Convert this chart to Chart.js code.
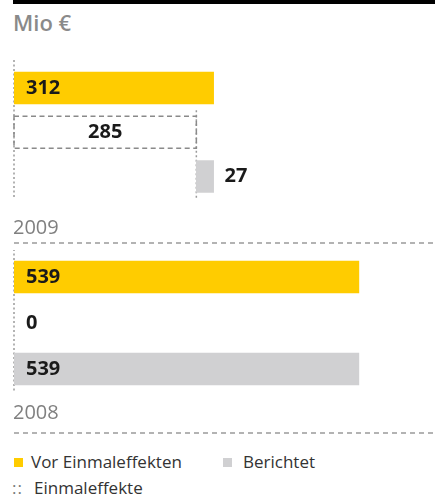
<!DOCTYPE html>
<html>
<head>
<meta charset="utf-8">
<script src="https://cdn.jsdelivr.net/npm/chart.js@4"></script>
<style>
  html, body { margin: 0; padding: 0; background: #fff; }
  #wrap { position: relative; width: 435px; height: 498px; overflow: hidden; font-family: "Open Sans", "Noto Sans", sans-serif; }
  #topbar { position: absolute; left: 13px; top: 0; width: 422px; height: 4px; background: #000; }
  #unit { position: absolute; left: 13px; top: 7px; font-size: 22px; font-weight: 600; color: #8a8a8a; line-height: 30px; }
  canvas { position: absolute; left: 0; }
  .leg { position: absolute; font-size: 17px; color: #333; line-height: 22px; white-space: nowrap; }
  .sw { position: absolute; width: 9px; height: 9px; }
</style>
</head>
<body>
<div id="wrap">
  <div id="topbar"></div>
  <div id="unit"></div>
  <canvas id="c0" width="435" height="200" style="top:50px"></canvas>
  <canvas id="c1" width="435" height="200" style="top:250px"></canvas>
  <div class="sw" style="left:14px;top:458px;background:#FFCC00"></div>
  <div class="leg" id="leg0" style="left:31px;top:451px"></div>
  <div class="sw" style="left:223px;top:458px;background:#D0D0D2"></div>
  <div class="leg" id="leg2" style="left:243px;top:451px"></div>
  <div class="leg" style="left:12px;top:477px;color:#777;letter-spacing:1px">::</div>
  <div class="leg" id="leg1" style="left:34px;top:477px"></div>
</div>
<script>
// ---- data ----
const unitLabel = 'Mio €';
const years = ['2009', '2008'];
const seriesNames = ['Vor Einmaleffekten', 'Einmaleffekte', 'Berichtet'];
const vorEinmal = [312, 539];
const einmal = [285, 0];
const berichtet = [27, 539];
const axisMax = 658;

document.getElementById('unit').textContent = unitLabel;
document.getElementById('leg0').textContent = seriesNames[0];
document.getElementById('leg1').textContent = seriesNames[1];
document.getElementById('leg2').textContent = seriesNames[2];

const YELLOW = '#FFCC00', GREY = '#D0D0D2', LINE = '#9a9a9a';

// per-panel layout (pixels inside each canvas)
const panelLayout = [
  { padTop: 15.9, padBottom: 51.4, labelOff: 51.5, sepOff: 66.5 },
  { padTop: 4, padBottom: 58, labelOff: 44, sepOff: 64 }
];

function makePanel(i) {
  const L = panelLayout[i];
  const vals = [vorEinmal[i], einmal[i], berichtet[i]];
  const data = [
    [0, vorEinmal[i]],
    [0, einmal[i]],
    [einmal[i], einmal[i] + berichtet[i]]
  ];
  const deco = {
    id: 'deco' + i,
    beforeDatasetsDraw(chart) {
      const ctx = chart.ctx, xs = chart.scales.x, ys = chart.scales.y;
      const x0 = xs.getPixelForValue(0);
      ctx.save();
      ctx.strokeStyle = LINE;
      const top = ys.getPixelForValue(0) - 28;
      const yLast = ys.getPixelForValue(2);
      const bot = yLast + 22;
      ctx.lineWidth = 1.5;
      ctx.setLineDash([2, 2.5]);
      ctx.beginPath(); ctx.moveTo(x0, top); ctx.lineTo(x0, bot); ctx.stroke();
      if (einmal[i] > 0) {
        const xe = xs.getPixelForValue(einmal[i]);
        const t2 = ys.getPixelForValue(1) - 22;
        ctx.beginPath(); ctx.moveTo(xe, t2); ctx.lineTo(xe, bot); ctx.stroke();
      }
      // year label
      ctx.setLineDash([]);
      ctx.fillStyle = '#808080';
      ctx.font = '20px "Open Sans", "Noto Sans", sans-serif';
      ctx.textBaseline = 'middle';
      ctx.textAlign = 'left';
      ctx.fillText(years[i], x0 - 1, yLast + L.labelOff);
      // dashed separator
      const ysep = yLast + L.sepOff;
      ctx.lineWidth = 1.5;
      ctx.setLineDash([5, 4]);
      ctx.beginPath(); ctx.moveTo(x0, ysep); ctx.lineTo(chart.width, ysep); ctx.stroke();
      ctx.restore();
    },
    afterDatasetsDraw(chart) {
      const ctx = chart.ctx;
      const meta = chart.getDatasetMeta(0);
      ctx.save();
      // dashed outline for one-off effects
      if (einmal[i] > 0) {
        const p = meta.data[1].getProps(['x', 'y', 'base', 'height'], true);
        ctx.strokeStyle = '#8a8a8a';
        ctx.lineWidth = 1.5;
        ctx.setLineDash([5, 3.5]);
        ctx.strokeRect(p.base, p.y - p.height / 2, p.x - p.base, p.height);
      }
      ctx.setLineDash([]);
      ctx.font = 'bold 20px "Open Sans", "Noto Sans", sans-serif';
      ctx.fillStyle = '#1a1a1a';
      ctx.textBaseline = 'middle';
      meta.data.forEach((bar, j) => {
        const p = bar.getProps(['x', 'y', 'base'], true);
        const txt = String(vals[j]);
        const w = p.x - p.base;
        if (j === 1 && w > 40) {
          ctx.textAlign = 'center';
          ctx.fillText(txt, (p.x + p.base) / 2, p.y);
        } else if (w > 40 || j === 1) {
          ctx.textAlign = 'left';
          ctx.fillText(txt, p.base + 12, p.y);
        } else {
          ctx.textAlign = 'left';
          ctx.fillText(txt, p.x + 11, p.y);
        }
      });
      ctx.restore();
    }
  };
  return new Chart(document.getElementById('c' + i), {
    type: 'bar',
    data: {
      labels: seriesNames,
      datasets: [{
        label: years[i],
        data: data,
        backgroundColor: [YELLOW, 'rgba(0,0,0,0)', GREY],
        barThickness: 32,
        borderWidth: 0,
        borderSkipped: false
      }]
    },
    options: {
      indexAxis: 'y',
      responsive: false,
      animation: false,
      devicePixelRatio: 1,
      layout: { padding: { left: 14, right: 0, top: L.padTop, bottom: L.padBottom } },
      scales: {
        x: { display: false, min: 0, max: axisMax },
        y: { display: false }
      },
      plugins: { legend: { display: false }, tooltip: { enabled: false } }
    },
    plugins: [deco]
  });
}
years.forEach((y, i) => makePanel(i));
</script>
</body>
</html>
